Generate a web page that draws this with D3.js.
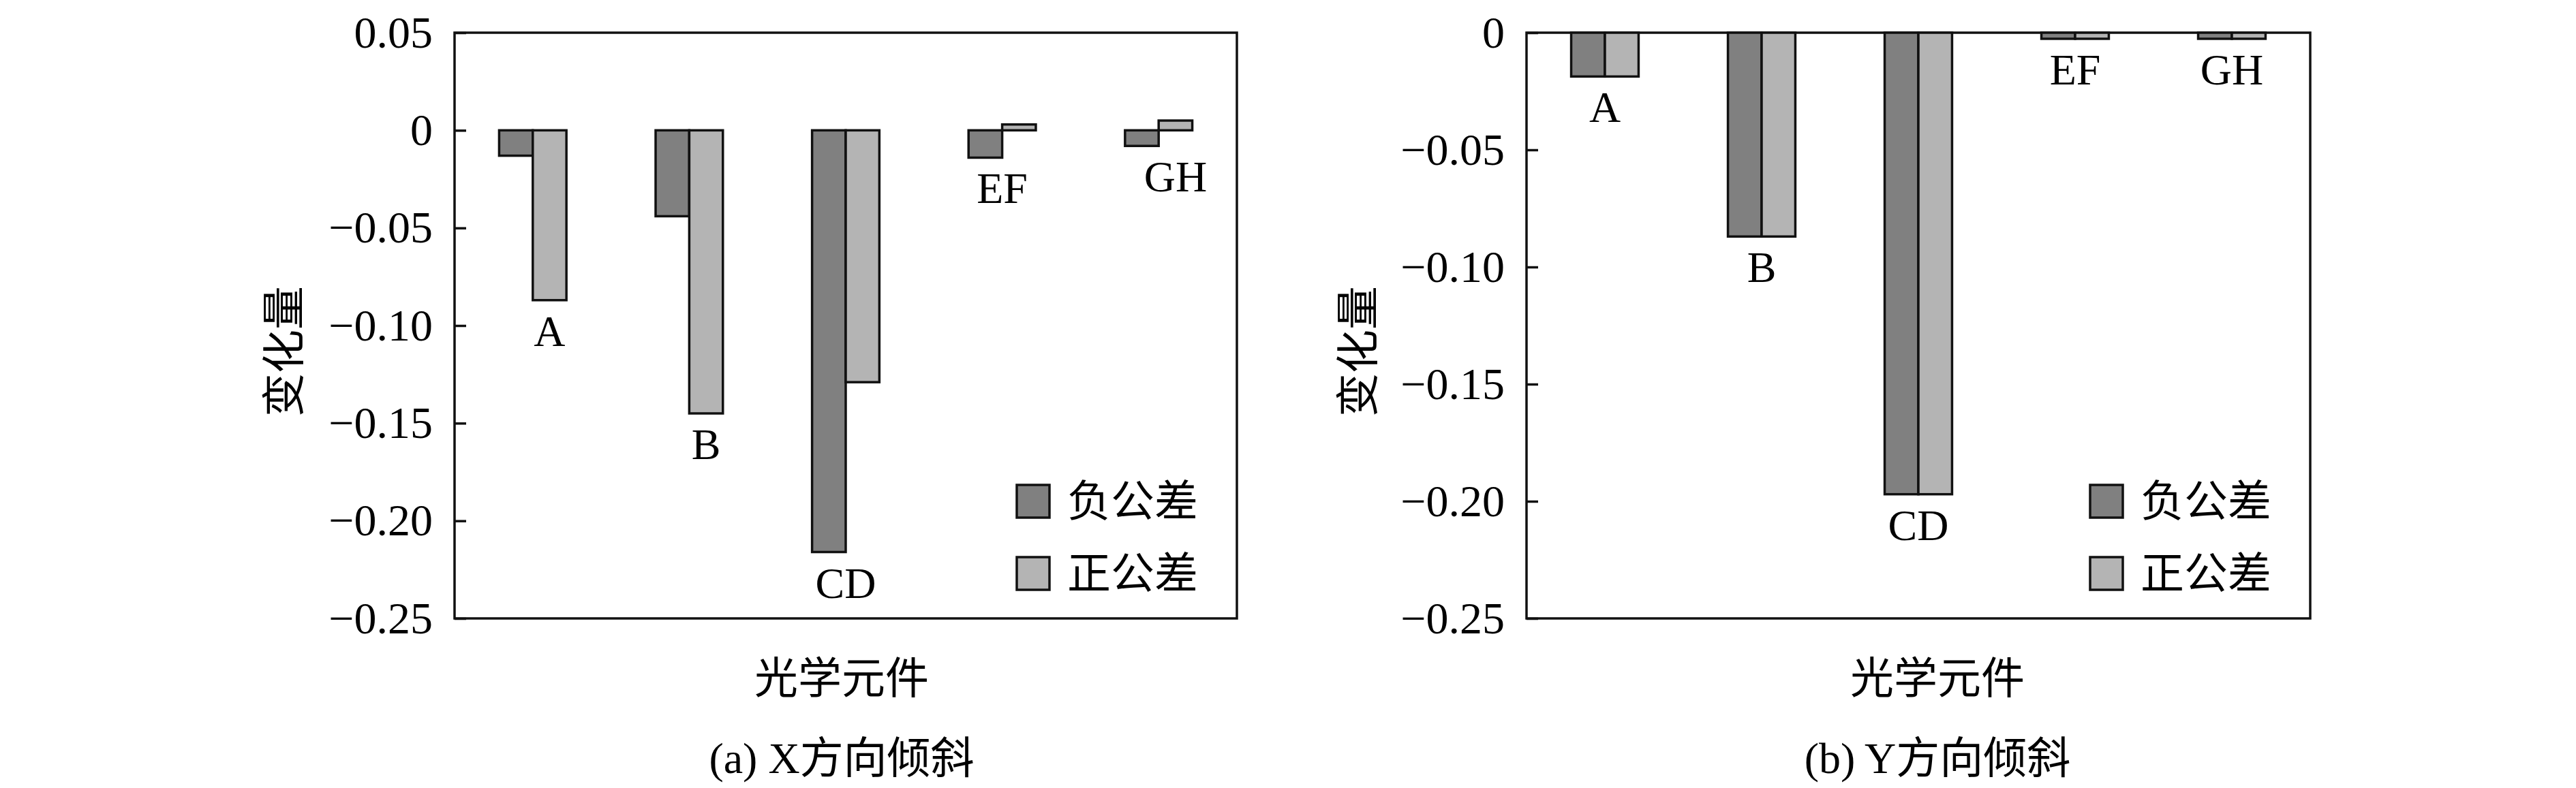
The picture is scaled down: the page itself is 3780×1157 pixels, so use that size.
<!DOCTYPE html>
<html>
<head>
<meta charset="utf-8">
<script src="https://cdn.jsdelivr.net/npm/d3@7"></script>
<style>
  html, body { margin: 0; padding: 0; background: #fff; }
  svg { display: block; }
  text { font-family: "Liberation Serif", "Times New Roman", "Noto Sans CJK SC", serif; fill: #000; }
</style>
</head>
<body>
<svg id="chart" width="3780" height="1157"></svg>
<script>
// ---------- data ----------
const categories = ["A", "B", "CD", "EF", "GH"];
const seriesNames = ["负公差", "正公差"];

// (a) X-direction tilt
const xNegative = [-0.013, -0.044, -0.216, -0.014, -0.008];
const xPositive = [-0.087, -0.145, -0.129, 0.003, 0.005];
const xTickValues = [0.05, 0, -0.05, -0.10, -0.15, -0.20, -0.25];
const xTickLabels = ["0.05", "0", "\u22120.05", "\u22120.10", "\u22120.15", "\u22120.20", "\u22120.25"];
const xLabelAnchor = ["pos", "pos", "mid", "mid", "pos"];

// (b) Y-direction tilt
const yNegative = [-0.0187, -0.087, -0.197, -0.0026, -0.0026];
const yPositive = [-0.0187, -0.087, -0.197, -0.0026, -0.0026];
const yTickValues = [0, -0.05, -0.10, -0.15, -0.20, -0.25];
const yTickLabels = ["0", "\u22120.05", "\u22120.10", "\u22120.15", "\u22120.20", "\u22120.25"];
const yLabelAnchor = ["mid", "mid", "mid", "mid", "mid"];

const yAxisTitle = "变化量";
const xAxisTitle = "光学元件";
const captions = ["(a) X方向倾斜", "(b) Y方向倾斜"];

// ---------- styles ----------
const colors = ["#808080", "#b4b4b4"];
const stroke = "#111";
const svg = d3.select("#chart");

function drawPanel(opts) {
  const { left, right, top, bottom, neg, pos, ticks, tickLabels, anchors, caption, titleShift } = opts;
  const g = svg.append("g");

  const x = d3.scaleBand().domain(categories).range([left, right]).padding(0);
  const inner = d3.scaleBand().domain([0, 1]).range([0, x.bandwidth() * 0.43]).padding(0);
  const y = d3.scaleLinear().domain([ticks[0], ticks[ticks.length - 1]]).range([top, bottom]);

  // frame
  g.append("rect")
    .attr("x", left).attr("y", top)
    .attr("width", right - left).attr("height", bottom - top)
    .attr("fill", "none").attr("stroke", stroke).attr("stroke-width", 3.5);

  // y axis with inside ticks
  const axis = d3.axisLeft(y)
    .tickValues(ticks)
    .tickSize(-17)
    .tickPadding(32)
    .tickFormat((d, i) => tickLabels[i]);
  const ag = g.append("g").attr("transform", `translate(${left},0)`).call(axis);
  ag.select(".domain").remove();
  ag.selectAll(".tick line").attr("stroke", stroke).attr("stroke-width", 3.5);
  ag.selectAll(".tick text")
    .attr("font-size", 66)
    .attr("font-family", "Liberation Serif, Times New Roman, serif")
    .attr("fill", "#000");

  // bars
  const groupOffset = (x.bandwidth() - inner.range()[1]) / 2;
  const data = categories.map((c, i) => ({ c, i, vals: [neg[i], pos[i]] }));
  const grp = g.selectAll(".grp").data(data).enter().append("g")
    .attr("transform", d => `translate(${x(d.c) + groupOffset},0)`);
  grp.selectAll("rect").data(d => d.vals.map((v, k) => ({ v, k }))).enter().append("rect")
    .attr("x", d => inner(d.k))
    .attr("width", inner.bandwidth())
    .attr("y", d => Math.min(y(0), y(d.v)))
    .attr("height", d => Math.abs(y(d.v) - y(0)))
    .attr("fill", d => colors[d.k])
    .attr("stroke", stroke).attr("stroke-width", 3.5);

  // category labels beneath the lowest bar
  g.selectAll(".cat").data(data).enter().append("text")
    .attr("x", d => {
      const base = x(d.c) + groupOffset;
      if (anchors[d.i] === "pos") return base + inner(1) + inner.bandwidth() / 2;
      if (anchors[d.i] === "neg") return base + inner(0) + inner.bandwidth() / 2;
      return x(d.c) + x.bandwidth() / 2;
    })
    .attr("y", d => y(Math.min(0, d.vals[0], d.vals[1])) + 67)
    .attr("text-anchor", "middle")
    .attr("font-size", 64)
    .text(d => d.c);

  // legend
  const lx = right - 323;
  const ly = [712, 818];
  seriesNames.forEach((name, k) => {
    g.append("rect")
      .attr("x", lx).attr("y", ly[k])
      .attr("width", 48).attr("height", 48)
      .attr("fill", colors[k]).attr("stroke", stroke).attr("stroke-width", 3.5);
    g.append("text")
      .attr("x", lx + 74).attr("y", ly[k] + 24)
      .attr("dominant-baseline", "central")
      .attr("font-size", 64)
      .attr("font-family", "Noto Sans CJK SC, sans-serif")
      .text(name);
  });

  // y axis title (rotated)
  g.append("text")
    .attr("transform", `translate(${left - 250 + (opts.yTitleDx || 0)},${(top + bottom) / 2 + 38}) rotate(-90)`)
    .attr("text-anchor", "middle")
    .attr("dominant-baseline", "central")
    .attr("font-size", 64)
    .attr("font-family", "Noto Sans CJK SC, sans-serif")
    .text(yAxisTitle);

  // x axis title
  const cx = (left + right) / 2 + titleShift;
  g.append("text")
    .attr("x", cx).attr("y", 996)
    .attr("text-anchor", "middle")
    .attr("dominant-baseline", "central")
    .attr("font-size", 64)
    .attr("font-family", "Noto Sans CJK SC, sans-serif")
    .text(xAxisTitle);

  // caption
  g.append("text")
    .attr("x", cx).attr("y", 1113)
    .attr("text-anchor", "middle")
    .attr("dominant-baseline", "central")
    .attr("font-size", 64)
    .text(caption);
}

drawPanel({
  left: 667, right: 1815, top: 48, bottom: 908,
  neg: xNegative, pos: xPositive,
  ticks: xTickValues, tickLabels: xTickLabels, anchors: xLabelAnchor,
  caption: captions[0], titleShift: -6, yTitleDx: 0
});
drawPanel({
  left: 2240, right: 3390, top: 48, bottom: 908,
  neg: yNegative, pos: yPositive,
  ticks: yTickValues, tickLabels: yTickLabels, anchors: yLabelAnchor,
  caption: captions[1], titleShift: 28, yTitleDx: 3
});
</script>
</body>
</html>
